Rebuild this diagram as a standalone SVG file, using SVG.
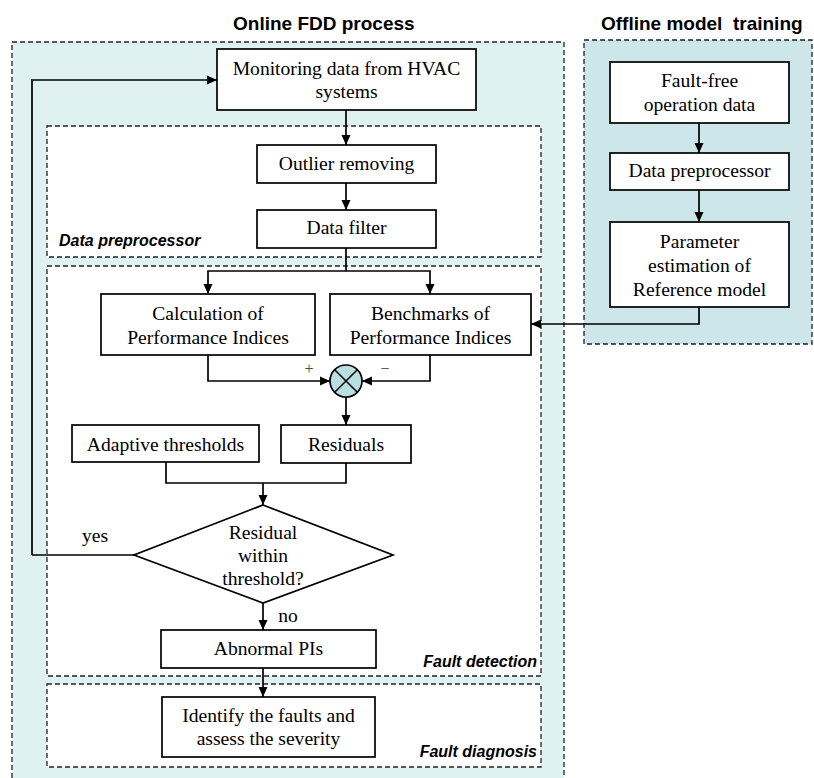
<svg xmlns="http://www.w3.org/2000/svg" width="814" height="778" viewBox="0 0 814 778">
<defs>
<marker id="ah" markerUnits="userSpaceOnUse" markerWidth="10" markerHeight="10" refX="10" refY="5" orient="auto">
<path d="M0,0.5 L10,5 L0,9.5 z" fill="#000"/>
</marker>
</defs>
<style>
.cont{stroke:#222;stroke-width:1.3;stroke-dasharray:5,3}
.box{fill:#fff;stroke:#000;stroke-width:1.7}
.t{font-family:"Liberation Serif","Times New Roman",serif;font-size:19.6px;fill:#000;text-anchor:middle}
.title{font-family:"Liberation Sans",Arial,sans-serif;font-size:19px;font-weight:bold;fill:#000;white-space:pre}
.lab{font-family:"Liberation Sans",Arial,sans-serif;font-size:16px;font-weight:bold;font-style:italic;fill:#000}
.c{fill:none;stroke:#000;stroke-width:1.7}
.ca{fill:none;stroke:#000;stroke-width:1.7;marker-end:url(#ah)}
</style>
<rect width="814" height="778" fill="#fff"/>
<!-- containers -->
<g id="online-container">
<rect x="12" y="42" width="552" height="740" fill="#e0f1f1" class="cont"/>
<text class="title" x="233" y="30">Online FDD process</text>
</g>
<g id="offline-container">
<rect x="584" y="40" width="228" height="304" fill="#cde6e9" class="cont"/>
<text class="title" x="601" y="30" xml:space="preserve">Offline model  training</text>
</g>
<g id="data-preprocessor-group">
<rect x="47" y="126" width="494" height="131" fill="#fff" class="cont"/>
<text class="lab" x="59" y="246">Data preprocessor</text>
</g>
<g id="fault-detection-group">
<rect x="47" y="266" width="494" height="410" fill="#fff" class="cont"/>
<text class="lab" x="537" y="667" text-anchor="end">Fault detection</text>
</g>
<g id="fault-diagnosis-group">
<rect x="47" y="684" width="494" height="83" fill="#fff" class="cont"/>
<text class="lab" x="537" y="757" text-anchor="end">Fault diagnosis</text>
</g>
<!-- connectors -->
<g id="connectors">
<path class="ca" d="M32,555 L32,80 L217,80"/>
<path class="c" d="M134,555 L32,555"/>
<path class="ca" d="M346,110 L346,145"/>
<path class="ca" d="M346,183 L346,210"/>
<path class="c" d="M346,248 L346,271"/>
<path class="ca" d="M346,271 L208,271 L208,294"/>
<path class="ca" d="M346,271 L430,271 L430,294"/>
<path class="ca" d="M208,355 L208,381 L330,381"/>
<path class="ca" d="M430,355 L430,381 L362,381"/>
<path class="ca" d="M346,397 L346,425"/>
<path class="c" d="M166,462 L166,483 L346,483 L346,463"/>
<path class="ca" d="M263,483 L263,505"/>
<path class="ca" d="M263,603 L263,630"/>
<path class="ca" d="M263,668 L263,697"/>
<path class="ca" d="M699,123 L699,153"/>
<path class="ca" d="M699,190 L699,222"/>
<path class="ca" d="M699,307 L699,324 L531,324"/>
<text x="309" y="374" font-family="Liberation Serif, serif" font-size="16" fill="#444" text-anchor="middle">+</text>
<text x="385" y="374" font-family="Liberation Serif, serif" font-size="16" fill="#444" text-anchor="middle">−</text>
<text class="t" x="95" y="542">yes</text>
<text class="t" x="288" y="622">no</text>
</g>
<!-- nodes -->
<g id="monitoring">
<rect class="box" x="217" y="49" width="259" height="61"/>
<text class="t" x="346.5" y="75">Monitoring data from HVAC</text>
<text class="t" x="346.5" y="98">systems</text>
</g>
<g id="outlier">
<rect class="box" x="257" y="145" width="179" height="38"/>
<text class="t" x="346.5" y="170">Outlier removing</text>
</g>
<g id="data-filter">
<rect class="box" x="257" y="210" width="179" height="38"/>
<text class="t" x="346.5" y="234">Data filter</text>
</g>
<g id="calculation">
<rect class="box" x="101" y="294" width="214" height="61"/>
<text class="t" x="208" y="320">Calculation of</text>
<text class="t" x="208" y="344">Performance Indices</text>
</g>
<g id="benchmarks">
<rect class="box" x="330" y="294" width="201" height="61"/>
<text class="t" x="430.5" y="320">Benchmarks of</text>
<text class="t" x="430.5" y="344">Performance Indices</text>
</g>
<g id="sum">
<circle cx="346" cy="381" r="16" fill="#b9dfe3" stroke="#000" stroke-width="1.7"/>
<path d="M334.7,369.7 L357.3,392.3 M357.3,369.7 L334.7,392.3" stroke="#000" stroke-width="1.5"/>
</g>
<g id="adaptive">
<rect class="box" x="72" y="425" width="187" height="37"/>
<text class="t" x="165.5" y="451">Adaptive thresholds</text>
</g>
<g id="residuals">
<rect class="box" x="281" y="425" width="130" height="38"/>
<text class="t" x="346" y="451">Residuals</text>
</g>
<g id="decision">
<polygon points="263,505 393,555 263,603 134,555" fill="#fff" stroke="#000" stroke-width="1.7"/>
<text class="t" x="263" y="539">Residual</text>
<text class="t" x="263" y="562">within</text>
<text class="t" x="263" y="585">threshold?</text>
</g>
<g id="abnormal">
<rect class="box" x="161" y="630" width="215" height="38"/>
<text class="t" x="268.5" y="655">Abnormal PIs</text>
</g>
<g id="identify">
<rect class="box" x="162" y="697" width="213" height="60"/>
<text class="t" x="268.5" y="722">Identify the faults and</text>
<text class="t" x="268.5" y="745">assess the severity</text>
</g>
<g id="fault-free">
<rect class="box" x="610" y="62" width="179" height="61"/>
<text class="t" x="699.5" y="87">Fault-free</text>
<text class="t" x="699.5" y="111">operation data</text>
</g>
<g id="offline-preprocessor">
<rect class="box" x="610" y="153" width="179" height="37"/>
<text class="t" x="699.5" y="177">Data preprocessor</text>
</g>
<g id="parameter">
<rect class="box" x="610" y="222" width="179" height="85"/>
<text class="t" x="699.5" y="248">Parameter</text>
<text class="t" x="699.5" y="272">estimation of</text>
<text class="t" x="699.5" y="296">Reference model</text>
</g>
</svg>
